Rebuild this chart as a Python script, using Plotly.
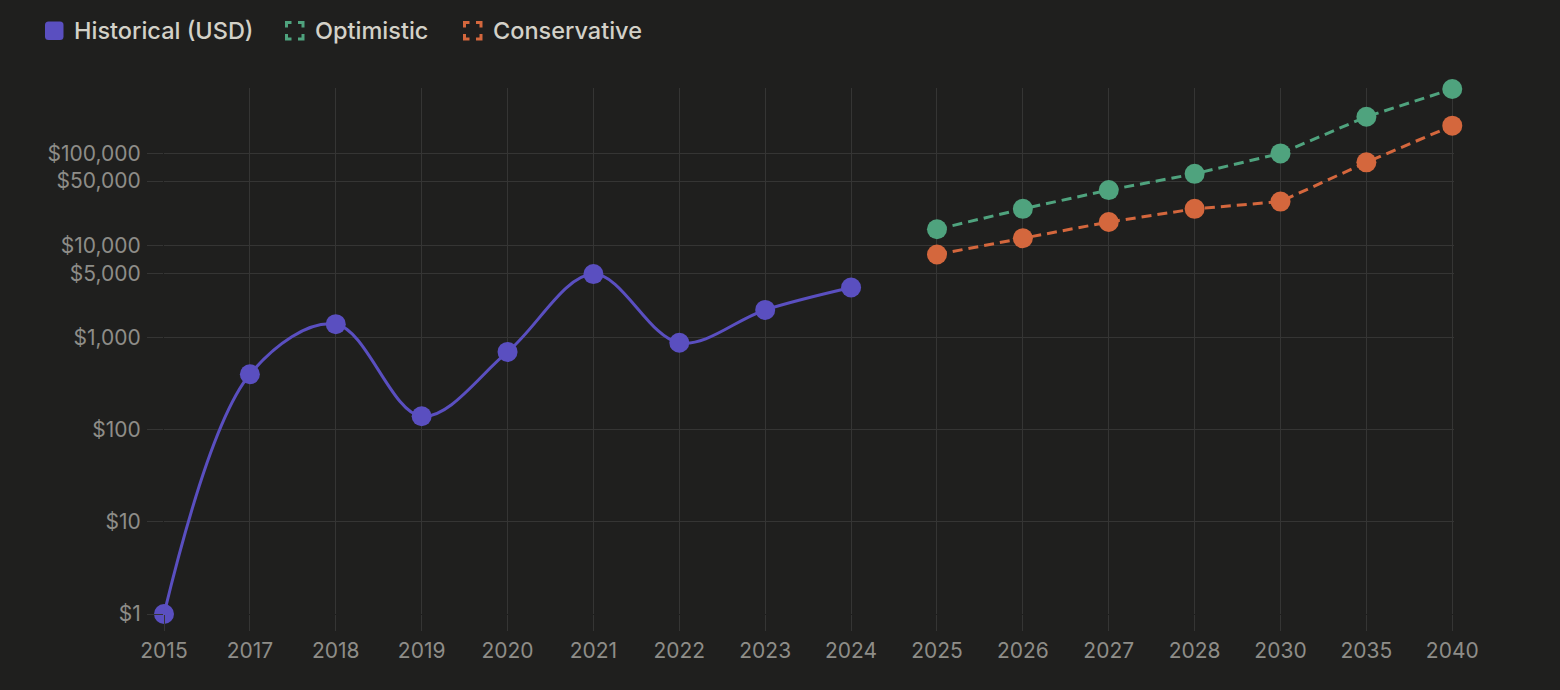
import plotly.graph_objects as go

years = ["2015", "2017", "2018", "2019", "2020", "2021", "2022", "2023", "2024",
         "2025", "2026", "2027", "2028", "2030", "2035", "2040"]
hist_years = ["2015", "2017", "2018", "2019", "2020", "2021", "2022", "2023", "2024"]
hist_values = [1, 400, 1400, 140, 700, 4900, 880, 2000, 3500]
fc_years = ["2025", "2026", "2027", "2028", "2030", "2035", "2040"]
optimistic = [15000, 25000, 40000, 60000, 100000, 250000, 500000]
conservative = [8000, 12000, 18000, 25000, 30000, 80000, 200000]
tick_vals = [1, 10, 100, 1000, 5000, 10000, 50000, 100000]
tick_text = ["$1", "$10", "$100", "$1,000", "$5,000", "$10,000", "$50,000", "$100,000"]

PURPLE = "#5a4fc0"
GREEN = "#4fa37e"
ORANGE = "#d4673d"
BG = "#1f1f1e"
GRID = "#353534"
TICK_FONT = "#8e8d88"
LEG_FONT = "#d3d1c8"

fig = go.Figure()
fig.add_trace(go.Scatter(
    x=hist_years, y=hist_values, mode="lines+markers", name="Historical (USD)",
    line=dict(color=PURPLE, width=3, shape="spline", smoothing=1.0),
    marker=dict(color=PURPLE, size=20), cliponaxis=False))
fig.add_trace(go.Scatter(
    x=fc_years, y=optimistic, mode="lines+markers", name="Optimistic",
    line=dict(color=GREEN, width=3, dash="10px,6px"),
    marker=dict(color=GREEN, size=20), cliponaxis=False))
fig.add_trace(go.Scatter(
    x=fc_years, y=conservative, mode="lines+markers", name="Conservative",
    line=dict(color=ORANGE, width=3, dash="10px,6px"),
    marker=dict(color=ORANGE, size=20), cliponaxis=False))

# plot area geometry (pixels)
L, R, T, B = 164, 1454, 88, 614
W, H = 1560, 690


def px(x):
    return (x - L) / (R - L)


def py(y):
    return (B - y) / (B - T)


def rounded_square(x0, y0, s, r):
    pts = [
        f"M {px(x0 + r)},{py(y0)}",
        f"L {px(x0 + s - r)},{py(y0)}",
        f"Q {px(x0 + s)},{py(y0)} {px(x0 + s)},{py(y0 + r)}",
        f"L {px(x0 + s)},{py(y0 + s - r)}",
        f"Q {px(x0 + s)},{py(y0 + s)} {px(x0 + s - r)},{py(y0 + s)}",
        f"L {px(x0 + r)},{py(y0 + s)}",
        f"Q {px(x0)},{py(y0 + s)} {px(x0)},{py(y0 + s - r)}",
        f"L {px(x0)},{py(y0 + r)}",
        f"Q {px(x0)},{py(y0)} {px(x0 + r)},{py(y0)}",
        "Z",
    ]
    return " ".join(pts)


def bracket_square(x0, y0, s, a):
    # start 'a' pixels before the top-right corner so dashes wrap the corners
    pts = [
        f"M {px(x0 + s - a)},{py(y0)}",
        f"L {px(x0 + s)},{py(y0)}",
        f"L {px(x0 + s)},{py(y0 + s)}",
        f"L {px(x0)},{py(y0 + s)}",
        f"L {px(x0)},{py(y0)}",
        f"L {px(x0 + s - a)},{py(y0)}",
    ]
    return " ".join(pts)


shapes = [
    dict(type="path", xref="paper", yref="paper", path=rounded_square(45, 21.5, 18.5, 3.5),
         fillcolor=PURPLE, line=dict(width=0)),
    dict(type="path", xref="paper", yref="paper", path=bracket_square(286.5, 22.5, 16.5, 5),
         line=dict(color=GREEN, width=3, dash="10px,6.5px")),
    dict(type="path", xref="paper", yref="paper", path=bracket_square(464.5, 22.5, 16.5, 5),
         line=dict(color=ORANGE, width=3, dash="10px,6.5px")),
]
annotations = []
for label, x in [("Historical (USD)", 72), ("Optimistic", 313), ("Conservative", 491)]:
    annotations.append(dict(text=label, xref="paper", yref="paper", x=px(x), y=py(31),
                            xanchor="left", yanchor="middle", showarrow=False,
                            font=dict(family="Inter", size=23.5, weight=500, color=LEG_FONT)))

fig.update_layout(
    width=W, height=H, paper_bgcolor=BG, plot_bgcolor=BG,
    margin=dict(l=L, r=W - R, t=T, b=H - B),
    showlegend=False, shapes=shapes, annotations=annotations,
    font=dict(family="Inter", size=21, color=TICK_FONT),
    xaxis=dict(type="category", categoryorder="array", categoryarray=years,
               range=[0, 15.02], showgrid=True, gridcolor=GRID, gridwidth=1,
               ticks="outside", ticklen=16, tickcolor=GRID, tickwidth=1,
               showline=False, zeroline=False, ticklabelstandoff=2,
               tickfont=dict(family="Inter", size=21, color=TICK_FONT)),
    yaxis=dict(type="log", range=[0, 5.71], tickvals=tick_vals, ticktext=tick_text,
               showgrid=True, gridcolor=GRID, gridwidth=1,
               ticks="outside", ticklen=16, tickcolor=GRID, tickwidth=1,
               showline=False, zeroline=False, ticklabelstandoff=2,
               tickfont=dict(family="Inter", size=21, color=TICK_FONT)),
)

fig.write_html("out.html")
